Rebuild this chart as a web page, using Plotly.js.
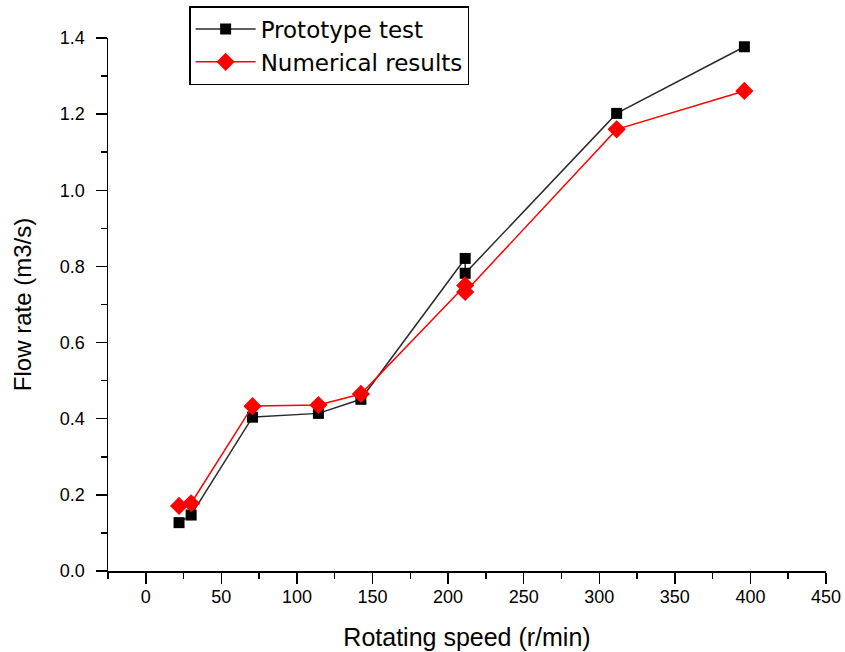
<!DOCTYPE html>
<html>
<head>
<meta charset="utf-8">
<script src="https://cdn.plot.ly/plotly-3.0.1.min.js"></script>
<style>html,body{margin:0;padding:0;background:#fff;}#chart{width:845px;height:652px;}</style>
</head>
<body>
<div id="chart"></div>
<script>
const speedProto = [22, 30, 70.6, 114.2, 142.3, 211.3, 211.3, 311.5, 396];
const flowProto = [0.127, 0.147, 0.404, 0.414, 0.451, 0.821, 0.782, 1.202, 1.377];
const speedNum = [22, 30, 70.6, 114.2, 142.3, 211.3, 211.3, 311.5, 396];
const flowNum = [0.171, 0.178, 0.433, 0.436, 0.465, 0.750, 0.733, 1.160, 1.261];
const seriesNames = ["Prototype test", "Numerical results"];
const xTicks = [0, 50, 100, 150, 200, 250, 300, 350, 400, 450];
const yTicks = [0, 0.2, 0.4, 0.6, 0.8, 1.0, 1.2, 1.4];
const yTickText = ["0.0", "0.2", "0.4", "0.6", "0.8", "1.0", "1.2", "1.4"];

const font = "Liberation Sans, Arial, sans-serif";

const traces = [
  {
    x: speedProto, y: flowProto, name: seriesNames[0], type: "scatter", mode: "lines+markers",
    line: {color: "#2a2a2a", width: 1.5},
    marker: {symbol: "square", size: 11, color: "#000000"}
  },
  {
    x: speedNum, y: flowNum, name: seriesNames[1], type: "scatter", mode: "lines+markers",
    line: {color: "#ff0000", width: 1.5},
    marker: {symbol: "diamond", size: 14, color: "#ff0000"}
  }
];

const layout = {
  width: 845, height: 652,
  margin: {l: 108, r: 19, t: 38, b: 81, autoexpand: false},
  paper_bgcolor: "#ffffff", plot_bgcolor: "#ffffff",
  showlegend: true,
  legend: {
    x: 0.113, y: 1.06, xanchor: "left", yanchor: "top",
    bordercolor: "#000000", borderwidth: 1.5, bgcolor: "#ffffff",
    font: {family: "DejaVu Sans, Liberation Sans, sans-serif", size: 23, color: "#000000"},
    itemwidth: 60, tracegroupgap: 0
  },
  xaxis: {
    range: [-25, 450], autorange: false,
    tickvals: xTicks,
    showgrid: false, zeroline: false,
    showline: true, linecolor: "#000000", linewidth: 1.5,
    ticks: "outside", ticklen: 11, tickwidth: 1.5, tickcolor: "#000000",
    minor: {dtick: 25, tick0: 0, ticks: "outside", ticklen: 6, tickwidth: 1.5, tickcolor: "#000000", showgrid: false},
    tickfont: {family: font, size: 18, color: "#000000"},
    ticklabelstandoff: -2,
    title: {text: "Rotating speed (r/min)", font: {family: font, size: 25, color: "#000000"}, standoff: 22}
  },
  yaxis: {
    range: [0, 1.4], autorange: false,
    tickvals: yTicks,
    ticktext: yTickText,
    showgrid: false, zeroline: false,
    showline: true, linecolor: "#000000", linewidth: 1.5,
    ticks: "outside", ticklen: 11, tickwidth: 1.5, tickcolor: "#000000",
    minor: {dtick: 0.1, tick0: 0, ticks: "outside", ticklen: 6, tickwidth: 1.5, tickcolor: "#000000", showgrid: false},
    tickfont: {family: font, size: 18, color: "#000000"},
    ticklabelstandoff: 7,
    title: {text: "Flow rate (m3/s)", font: {family: font, size: 24, color: "#000000"}, standoff: 21}
  }
};

Plotly.newPlot("chart", traces, layout, {displayModeBar: false, staticPlot: true});
</script>
</body>
</html>
